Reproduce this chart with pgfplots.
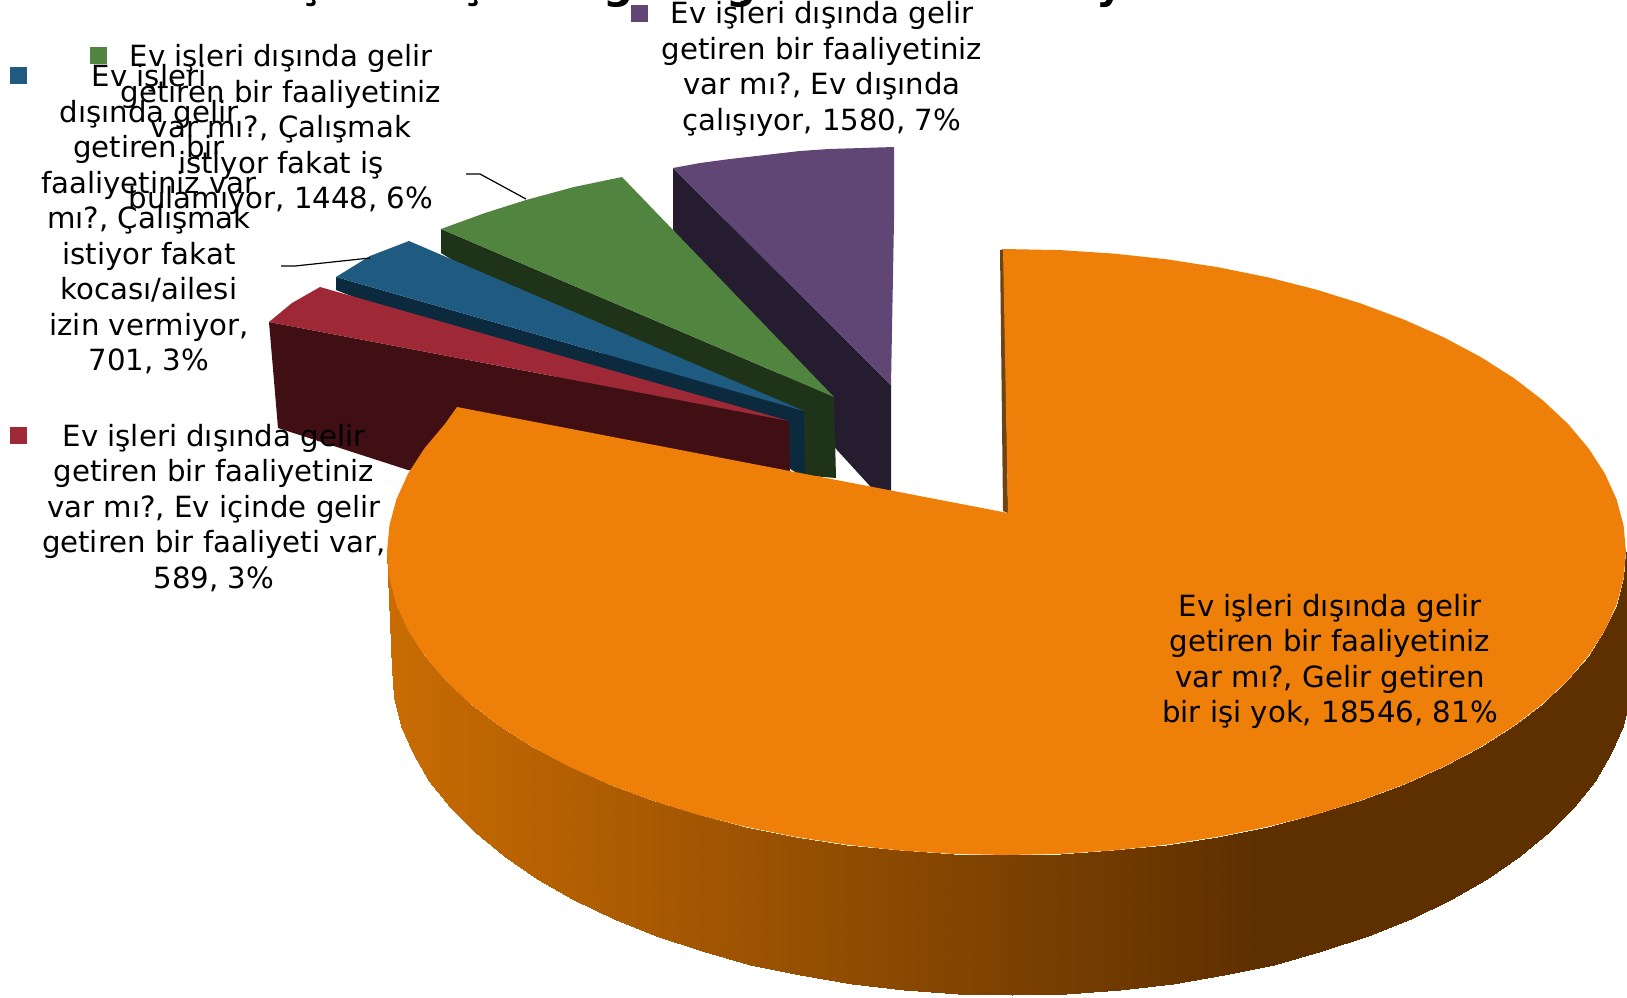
\documentclass[border=0pt]{standalone}
\usepackage{fontspec}
\setmainfont{DejaVu Sans}
\usepackage{pgfplots}
\pgfplotsset{compat=1.18}
\newcommand{\lf}{\fontsize{14.6}{17.75}\selectfont}
\tikzset{lbl/.style={text=black, inner sep=0pt, align=center, font=\lf}}
\begin{document}
\begin{tikzpicture}
\useasboundingbox (0,0) rectangle (813.5pt,498.5pt);
\clip (0,0) rectangle (813.5pt,498.5pt);
\begin{axis}[
  at={(0pt,0pt)}, anchor=south west,
  scale only axis, width=813.5pt, height=498.5pt,
  xmin=0, xmax=1627, ymin=0, ymax=997, y dir=reverse,
  hide axis, clip=false,
  colormap={side}{rgb255(0)=(201,108,3) rgb255(700)=(94,48,0) rgb255(1000)=(94,48,0)},
  point meta min=387, point meta max=1627,
]
% purple slice
\addplot[fill={rgb,255:red,38;green,28;blue,48}, draw=none] coordinates {(673,168) (891,385) (891,509) (837,450) (673,230) (673,168)};
\addplot[fill={rgb,255:red,95;green,70;blue,116}, draw=none] coordinates {(673,168) (700,163) (730,159) (765,155) (800,151) (829,149) (862,148) (894,147) (894,220) (891,385) (673,168)};
% green slice
\addplot[fill={rgb,255:red,31;green,51;blue,24}, draw=none] coordinates {(441,229) (834,397) (836,478) (800,475) (441,253) (441,229)};
\addplot[fill={rgb,255:red,80;green,132;blue,63}, draw=none] coordinates {(441,229) (485,213) (526,200) (574,187) (622,177) (834,397) (441,229)};
% blue slice
\addplot[fill={rgb,255:red,11;green,42;blue,62}, draw=none] coordinates {(336,277) (804,411) (805,474) (780,465) (336,290) (336,277)};
\addplot[fill={rgb,255:red,31;green,90;blue,128}, draw=none] coordinates {(336,277) (370,256) (409,241) (804,411) (336,277)};
% red slice
\addplot[fill={rgb,255:red,64;green,15;blue,19}, draw=none] coordinates {(269,322) (789,421) (790,472) (408,470) (278,428) (269,322)};
\addplot[fill={rgb,255:red,158;green,40;blue,54}, draw=none] coordinates {(269,322) (292,303) (320,287) (789,421) (269,322)};
% orange outer wall
\addplot[patch, patch type=rectangle, shader=interp, point meta=x] coordinates {
(387,552) (389.4,578.4) (394.4,697.4) (392,669)
(389.4,578.4) (396.4,604.6) (401.4,725.6) (394.4,697.4)
(396.4,604.6) (408.1,630.4) (413.1,753.4) (401.4,725.6)
(408.1,630.4) (424.4,655.6) (429.4,780.5) (413.1,753.4)
(424.4,655.6) (445,680.1) (450.1,806.8) (429.4,780.5)
(445,680.1) (470,703.5) (475.1,832) (450.1,806.8)
(470,703.5) (499,725.8) (504.1,856) (475.1,832)
(499,725.8) (532,746.8) (537.1,878.6) (504.1,856)
(532,746.8) (568.5,766.3) (573.6,899.5) (537.1,878.6)
(568.5,766.3) (608.3,784.1) (613.5,918.7) (573.6,899.5)
(608.3,784.1) (651.2,800.2) (656.4,936.1) (613.5,918.7)
(651.2,800.2) (696.7,814.4) (702,951.3) (656.4,936.1)
(696.7,814.4) (744.7,826.6) (750,964.5) (702,951.3)
(744.7,826.6) (794.6,836.7) (800,975.3) (750,964.5)
(794.6,836.7) (846.2,844.7) (851.5,983.9) (800,975.3)
(846.2,844.7) (899,850.4) (904.4,990) (851.5,983.9)
(899,850.4) (952.5,853.9) (958,993.8) (904.4,990)
(952.5,853.9) (1006.5,855) (1012,995) (958,993.8)
(1006.5,855) (1060.5,853.9) (1066,993.8) (1012,995)
(1060.5,853.9) (1114,850.4) (1119.6,990) (1066,993.8)
(1114,850.4) (1166.8,844.7) (1172.5,983.9) (1119.6,990)
(1166.8,844.7) (1218.4,836.7) (1224,975.3) (1172.5,983.9)
(1218.4,836.7) (1268.3,826.6) (1274,964.5) (1224,975.3)
(1268.3,826.6) (1316.3,814.4) (1322,951.3) (1274,964.5)
(1316.3,814.4) (1361.8,800.2) (1367.6,936.1) (1322,951.3)
(1361.8,800.2) (1404.7,784.1) (1410.5,918.7) (1367.6,936.1)
(1404.7,784.1) (1444.5,766.3) (1450.4,899.5) (1410.5,918.7)
(1444.5,766.3) (1481,746.8) (1486.9,878.6) (1450.4,899.5)
(1481,746.8) (1514,725.8) (1519.9,856) (1486.9,878.6)
(1514,725.8) (1543,703.5) (1548.9,832) (1519.9,856)
(1543,703.5) (1568,680.1) (1573.9,806.8) (1548.9,832)
(1568,680.1) (1588.6,655.6) (1594.6,780.5) (1573.9,806.8)
(1588.6,655.6) (1604.9,630.4) (1610.9,753.4) (1594.6,780.5)
(1604.9,630.4) (1616.6,604.6) (1622.6,725.6) (1610.9,753.4)
(1616.6,604.6) (1623.6,578.4) (1629.6,697.4) (1622.6,725.6)
(1623.6,578.4) (1626,552) (1632,669) (1629.6,697.4)
};
% inner wall sliver
\addplot[fill={rgb,255:red,110;green,68;blue,18}, draw=none] coordinates {(1000,250) (1004,249) (1008,513) (1003,511) (1000,250)};
% orange top face
\addplot[fill={rgb,255:red,238;green,127;blue,8}, draw=none] coordinates {
(1003,249) (1060.5,250.1) (1114,253.6) (1166.8,259.3) (1218.4,267.3) (1268.3,277.4)
(1316.3,289.6) (1361.8,303.8) (1404.7,319.9) (1444.5,337.7) (1481,357.2) (1514,378.2)
(1543,400.5) (1568,423.9) (1588.6,448.4) (1604.9,473.6) (1616.6,499.4) (1623.6,525.6)
(1626,552) (1623.6,578.4) (1616.6,604.6) (1604.9,630.4) (1588.6,655.6) (1568,680.1)
(1543,703.5) (1514,725.8) (1481,746.8) (1444.5,766.3) (1404.7,784.1) (1361.8,800.2)
(1316.3,814.4) (1268.3,826.6) (1218.4,836.7) (1166.8,844.7) (1114,850.4) (1060.5,853.9)
(1006.5,855) (952.5,853.9) (899,850.4) (846.2,844.7) (794.6,836.7) (744.7,826.6)
(696.7,814.4) (651.2,800.2) (608.3,784.1) (568.5,766.3) (532,746.8) (499,725.8)
(470,703.5) (445,680.1) (424.4,655.6) (408.1,630.4) (396.4,604.6) (389.4,578.4)
(387,552) (389.4,525.6) (396.4,499.4) (408.1,473.6) (424.4,448.4) (445,423.9)
(457,407) (1008,513) (1003,249)};
% leader lines
\addplot[black, line width=0.6pt] coordinates {(466,174) (480,174) (526,199)};
\addplot[black, line width=0.6pt] coordinates {(281,266) (295,266) (370,258)};
% legend keys
\addplot[only marks, mark=square*, mark size=4pt, color={rgb,255:red,95;green,70;blue,116}] coordinates {(639,13.5)};
\addplot[only marks, mark=square*, mark size=4pt, color={rgb,255:red,80;green,132;blue,63}] coordinates {(98.5,55)};
\addplot[only marks, mark=square*, mark size=4pt, color={rgb,255:red,31;green,90;blue,128}] coordinates {(18,75)};
\addplot[only marks, mark=square*, mark size=4pt, color={rgb,255:red,158;green,40;blue,54}] coordinates {(18,435)};
% texts
\node[anchor=base west, inner sep=0pt, font=\fontsize{21}{25}\selectfont\bfseries] at (axis cs:214,-2) {Ev işleri dışında gelir getiren bir faaliyetiniz var mı?};
\node[lbl] at (axis cs:822,69) {Ev işleri dışında gelir\\getiren bir faaliyetiniz\\var mı?, Ev dışında\\çalışıyor, 1580, 7\%};
\node[lbl] at (axis cs:281,129.5) {Ev işleri dışında gelir\\getiren bir faaliyetiniz\\var mı?, Çalışmak\\istiyor fakat iş\\bulamıyor, 1448, 6\%};
\node[lbl] at (axis cs:149,219.5) {Ev işleri\\dışında gelir\\getiren bir\\faaliyetiniz var\\mı?, Çalışmak\\istiyor fakat\\kocası/ailesi\\izin vermiyor,\\701, 3\%};
\node[lbl] at (axis cs:214,508) {Ev işleri dışında gelir\\getiren bir faaliyetiniz\\var mı?, Ev içinde gelir\\getiren bir faaliyeti var,\\589, 3\%};
\node[lbl] at (axis cs:1330,661.5) {Ev işleri dışında gelir\\getiren bir faaliyetiniz\\var mı?, Gelir getiren\\bir işi yok, 18546, 81\%};
\end{axis}
\end{tikzpicture}
\end{document}
